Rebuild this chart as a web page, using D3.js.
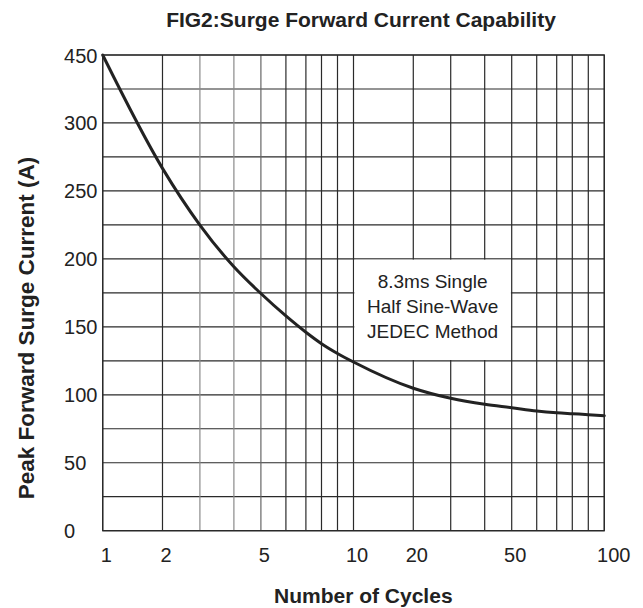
<!DOCTYPE html>
<html>
<head>
<meta charset="utf-8">
<script src="https://cdn.jsdelivr.net/npm/d3@7"></script>
<style>
  html, body { margin: 0; padding: 0; background: #fff; }
  svg { display: block; font-family: "Liberation Sans", Arial, sans-serif; }
</style>
</head>
<body>
<svg id="chart" width="643" height="608"></svg>
<script>
// ---- data ----
const cycles = [1, 2, 3, 4, 5, 6, 7, 8, 9, 10, 20, 30, 40, 50, 60, 70, 80, 90, 100];
const surgeCurrent = [350, 266.6, 224.9, 194.2, 174.5, 158.0, 146.0, 137.6, 130.4, 124.1,
                      104.8, 97.4, 93.0, 90.5, 88.1, 86.8, 86.1, 85.4, 84.6];
const xTickValues = [1, 2, 5, 10, 20, 50, 100];
const xTickLabels = ["1", "2", "5", "10", "20", "50", "100"];
const yTickValues = [0, 50, 100, 150, 200, 250, 300, 350];
const yTickLabels = ["0", "50", "100", "150", "200", "250", "300", "450"];
const yGridValues = d3.range(0, 351, 25);
const xGridValues = [1, 2, 3, 4, 5, 6, 7, 8, 9, 10, 20, 30, 40, 50, 60, 70, 80, 90, 100];
const noteLines = ["8.3ms Single", "Half Sine-Wave", "JEDEC Method"];
const titleText = "FIG2:Surge Forward Current Capability";
const xTitle = "Number of Cycles";
const yTitle = "Peak Forward Surge Current (A)";

// ---- layout ----
const margin = { left: 102.7, top: 55, right: 643 - 604.3, bottom: 608 - 530.7 };
const W = 643 - margin.left - margin.right;
const H = 608 - margin.top - margin.bottom;
// position of 1..10 within one decade of the printed (distorted) log paper
const paperDecade = [0, 0.2384, 0.3876, 0.5231, 0.6308, 0.7305, 0.8102, 0.8724, 0.9362, 1];

const xRange = xGridValues.map(v => {
  const dec = Math.floor(Math.log10(v) + 1e-9);
  const m = Math.round(v / Math.pow(10, dec));
  const f = dec >= 2 ? 1 : paperDecade[m - 1];
  return (Math.min(dec, 1) + (dec >= 2 ? 1 : f)) * W / 2;
});
const x = d3.scaleLinear().domain(xGridValues).range(xRange);
const y = d3.scaleLinear().domain([0, 350]).range([H, 0]);

const svg = d3.select("#chart");
svg.append("rect").attr("width", 643).attr("height", 608).attr("fill", "#fff");
const g = svg.append("g").attr("transform", `translate(${margin.left},${margin.top})`);

const ink = "#222";
const gridColor = v => (v === 3 || v === 4) ? "#8a8a8a" : (v === 5 ? "#666" : "#2a2a2a");

// grid
g.append("g").selectAll("line").data(yGridValues).join("line")
  .attr("x1", 0).attr("x2", W)
  .attr("y1", d => y(d)).attr("y2", d => y(d))
  .attr("stroke", "#2a2a2a").attr("stroke-width", 1.2);
g.append("g").selectAll("line").data(xGridValues).join("line")
  .attr("x1", d => x(d)).attr("x2", d => x(d))
  .attr("y1", 0).attr("y2", H)
  .attr("stroke", d => gridColor(d)).attr("stroke-width", 1.2);

// note box (white, covering the grid between 10..50 and 125..200)
g.append("rect")
  .attr("x", x(10) + 0.8).attr("y", y(200) + 0.8)
  .attr("width", x(50) - x(10) - 1.6).attr("height", y(125) - y(200) - 1.6)
  .attr("fill", "#fff");
const noteX = (x(10) + x(50)) / 2;
g.append("g").selectAll("text").data(noteLines).join("text")
  .attr("x", noteX)
  .attr("y", (d, i) => y(200) + 29 + i * 25.3)
  .attr("text-anchor", "middle")
  .attr("font-size", 19)
  .attr("fill", ink)
  .text(d => d);

// curve
const line = d3.line()
  .x((d, i) => x(cycles[i]))
  .y(d => y(d))
  .curve(d3.curveMonotoneX);
g.append("path").datum(surgeCurrent)
  .attr("d", line)
  .attr("fill", "none")
  .attr("stroke", ink)
  .attr("stroke-width", 3)
  .attr("stroke-linecap", "round");

// axes
const xAxis = d3.axisBottom(x).tickValues(xTickValues)
  .tickFormat((d, i) => xTickLabels[i]).tickSize(0).tickPadding(0);
const xa = g.append("g").attr("transform", `translate(0,${H})`).call(xAxis);
xa.select(".domain").remove();
xa.selectAll("text")
  .attr("y", 31).attr("dy", 0)
  .attr("dx", (d, i) => i === xTickValues.length - 1 ? 9 : 3)
  .attr("font-size", 20).attr("font-family", "Liberation Sans, Arial, sans-serif")
  .attr("fill", ink);

const yAxis = d3.axisLeft(y).tickValues(yTickValues)
  .tickFormat((d, i) => yTickLabels[i]).tickSize(0).tickPadding(0);
const ya = g.append("g").call(yAxis);
ya.select(".domain").remove();
ya.selectAll("text")
  .attr("x", 64 - margin.left)
  .attr("text-anchor", "start")
  .attr("dy", "0.35em")
  .attr("font-size", 20).attr("font-family", "Liberation Sans, Arial, sans-serif")
  .attr("fill", ink);

// frame
g.append("rect").attr("width", W).attr("height", H)
  .attr("fill", "none").attr("stroke", "#2a2a2a").attr("stroke-width", 1.3);

// titles
svg.append("text").attr("x", 361).attr("y", 27.3)
  .attr("text-anchor", "middle").attr("font-size", 21).attr("font-weight", "bold")
  .attr("fill", ink).text(titleText);
svg.append("text").attr("x", 363.3).attr("y", 603)
  .attr("text-anchor", "middle").attr("font-size", 21).attr("font-weight", "bold")
  .attr("fill", ink).text(xTitle);
svg.append("text")
  .attr("transform", "translate(34,328) rotate(-90)")
  .attr("text-anchor", "middle").attr("font-size", 22.5).attr("font-weight", "bold")
  .attr("fill", ink).text(yTitle);
</script>
</body>
</html>
